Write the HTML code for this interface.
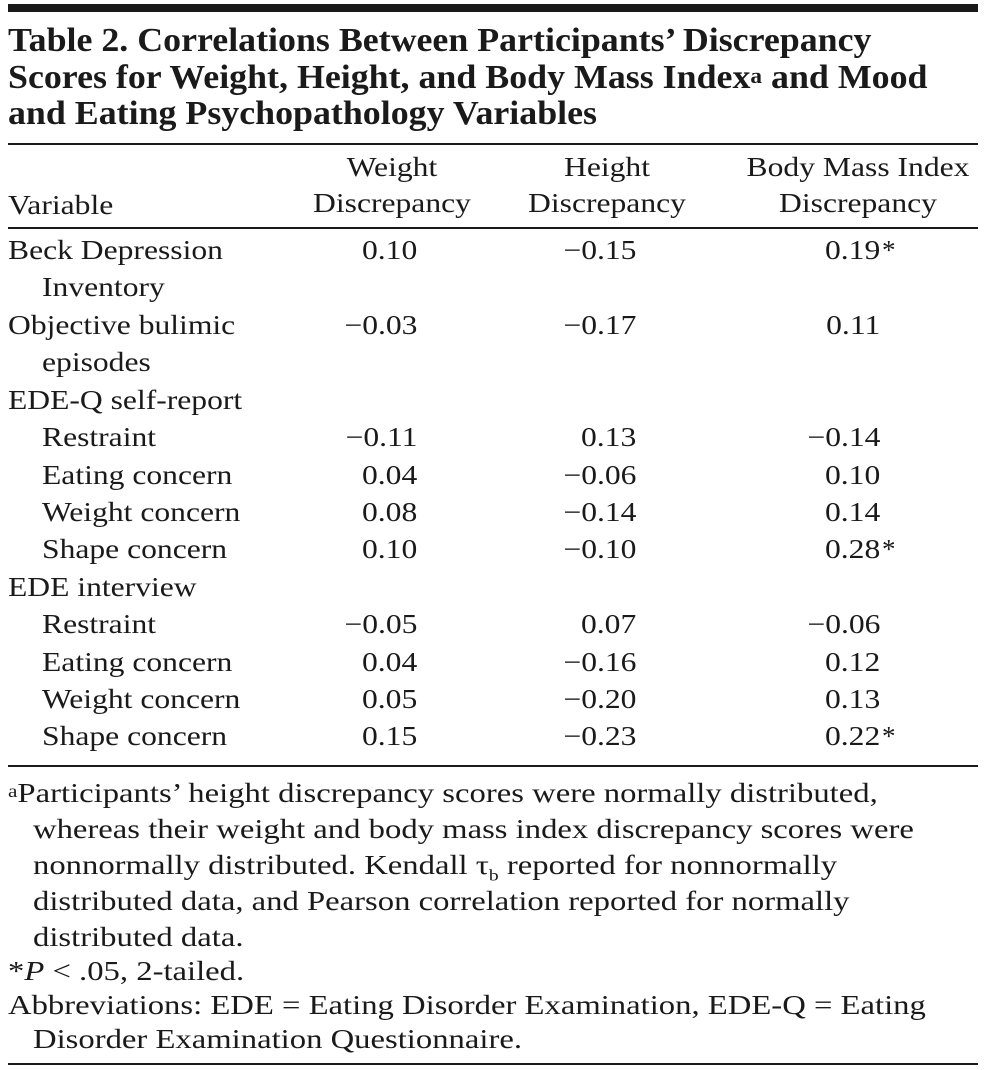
<!DOCTYPE html>
<html><head><meta charset="utf-8"><style>
body{margin:0;width:986px;height:1070px;background:#fff;position:relative;overflow:hidden;font-family:"Liberation Serif",serif;color:#1a1a1a}
.r{position:absolute;left:8px;width:970px;background:#1a1a1a}
.t{position:absolute;white-space:nowrap;font-size:27px;line-height:27px;transform-origin:0 0;transform:scaleX(1.17)}
.f{transform:scaleX(1.21)}
.b{font-weight:bold;font-size:34px;line-height:34px;transform:scaleX(1.055)}
.c{transform:translateX(-50%) scaleX(1.17);transform-origin:50% 0}
.n{position:absolute;white-space:nowrap;font-size:27px;line-height:27px;transform-origin:100% 0;transform:scaleX(1.17);text-align:right}
sup{font-size:65%;vertical-align:top;position:relative;top:-2px}
.s{position:absolute;font-size:27px;line-height:27px}
</style></head><body>
<div class="r" style="top:4px;height:8px"></div>
<div class="t b" style="left:8px;top:24px">Table 2. Correlations Between Participants’ Discrepancy</div>
<div class="t b" style="left:8px;top:61px">Scores for Weight, Height, and Body Mass Index<sup>a</sup> and Mood</div>
<div class="t b" style="left:8px;top:97px">and Eating Psychopathology Variables</div>
<div class="r" style="top:143px;height:2px"></div>

<div class="t c" style="left:392px;top:154px">Weight</div>
<div class="t c" style="left:392px;top:190px">Discrepancy</div>
<div class="t c" style="left:607px;top:154px">Height</div>
<div class="t c" style="left:607px;top:190px">Discrepancy</div>
<div class="t c" style="left:858px;top:154px">Body Mass Index</div>
<div class="t c" style="left:858px;top:190px">Discrepancy</div>
<div class="t" style="left:8px;top:192px">Variable</div>
<div class="r" style="top:227px;height:2px"></div>

<div class="t" style="left:8px;top:237px">Beck Depression</div>
<div class="t" style="left:42px;top:274px">Inventory</div>
<div class="t" style="left:8px;top:312px">Objective bulimic</div>
<div class="t" style="left:42px;top:349px">episodes</div>
<div class="t" style="left:8px;top:387px">EDE-Q self-report</div>
<div class="t" style="left:42px;top:424px">Restraint</div>
<div class="t" style="left:42px;top:462px">Eating concern</div>
<div class="t" style="left:42px;top:499px">Weight concern</div>
<div class="t" style="left:42px;top:536px">Shape concern</div>
<div class="t" style="left:8px;top:574px">EDE interview</div>
<div class="t" style="left:42px;top:611px">Restraint</div>
<div class="t" style="left:42px;top:649px">Eating concern</div>
<div class="t" style="left:42px;top:686px">Weight concern</div>
<div class="t" style="left:42px;top:723px">Shape concern</div>

<div class="n" style="right:569px;top:237px">0.10</div><div class="n" style="right:350px;top:237px">−0.15</div><div class="n" style="right:106px;top:237px">0.19</div><div class="s" style="left:882px;top:237px">*</div>
<div class="n" style="right:569px;top:312px">−0.03</div><div class="n" style="right:350px;top:312px">−0.17</div><div class="n" style="right:106px;top:312px">0.11</div>
<div class="n" style="right:569px;top:424px">−0.11</div><div class="n" style="right:350px;top:424px">0.13</div><div class="n" style="right:106px;top:424px">−0.14</div>
<div class="n" style="right:569px;top:462px">0.04</div><div class="n" style="right:350px;top:462px">−0.06</div><div class="n" style="right:106px;top:462px">0.10</div>
<div class="n" style="right:569px;top:499px">0.08</div><div class="n" style="right:350px;top:499px">−0.14</div><div class="n" style="right:106px;top:499px">0.14</div>
<div class="n" style="right:569px;top:536px">0.10</div><div class="n" style="right:350px;top:536px">−0.10</div><div class="n" style="right:106px;top:536px">0.28</div><div class="s" style="left:882px;top:536px">*</div>
<div class="n" style="right:569px;top:611px">−0.05</div><div class="n" style="right:350px;top:611px">0.07</div><div class="n" style="right:106px;top:611px">−0.06</div>
<div class="n" style="right:569px;top:649px">0.04</div><div class="n" style="right:350px;top:649px">−0.16</div><div class="n" style="right:106px;top:649px">0.12</div>
<div class="n" style="right:569px;top:686px">0.05</div><div class="n" style="right:350px;top:686px">−0.20</div><div class="n" style="right:106px;top:686px">0.13</div>
<div class="n" style="right:569px;top:723px">0.15</div><div class="n" style="right:350px;top:723px">−0.23</div><div class="n" style="right:106px;top:723px">0.22</div><div class="s" style="left:882px;top:723px">*</div>
<div class="r" style="top:765px;height:2px"></div>

<div class="t f" style="left:8px;top:780px"><sup>a</sup>Participants’ height discrepancy scores were normally distributed,</div>
<div class="t f" style="left:33px;top:816px">whereas their weight and body mass index discrepancy scores were</div>
<div class="t f" style="left:33px;top:852px">nonnormally distributed. Kendall τ<sub style="font-size:60%">b</sub> reported for nonnormally</div>
<div class="t f" style="left:33px;top:888px">distributed data, and Pearson correlation reported for normally</div>
<div class="t f" style="left:33px;top:924px">distributed data.</div>
<div class="t f" style="left:8px;top:958px">*<i>P</i> &lt; .05, 2-tailed.</div>
<div class="t f" style="left:8px;top:992px">Abbreviations: EDE = Eating Disorder Examination, EDE-Q = Eating</div>
<div class="t f" style="left:33px;top:1026px">Disorder Examination Questionnaire.</div>
<div class="r" style="top:1063px;height:2px"></div>
</body></html>
